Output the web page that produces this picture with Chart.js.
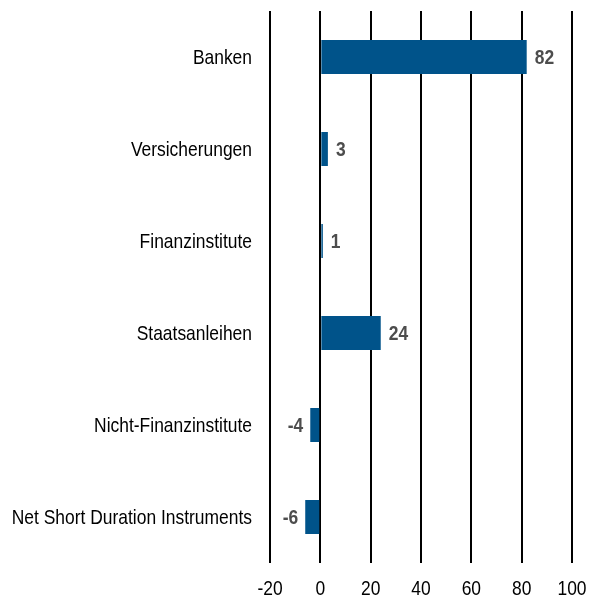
<!DOCTYPE html>
<html>
<head>
<meta charset="utf-8">
<script src="https://cdn.jsdelivr.net/npm/chart.js@4/dist/chart.umd.min.js"></script>
<style>
html,body{margin:0;padding:0;background:#fff;}
#wrap{width:589px;height:602px;position:relative;}
</style>
</head>
<body>
<div id="wrap"><canvas id="c"></canvas></div>
<script>
const categories = ["Banken","Versicherungen","Finanzinstitute","Staatsanleihen","Nicht-Finanzinstitute","Net Short Duration Instruments"];
const values = [82, 3, 1, 24, -4, -6];
const xTicks = [-20, 0, 20, 40, 60, 80, 100];

const FONT = "'Liberation Sans',Arial,sans-serif";
const NARROW = 0.83; // emulate Arial Narrow

function narrowText(ctx, text, x, y, align) {
  ctx.save();
  ctx.translate(x, y);
  ctx.scale(NARROW, 1);
  ctx.textAlign = align;
  ctx.fillText(text, 0, 0);
  ctx.restore();
}

const textPlugin = {
  id: 'narrowText',
  afterDatasetsDraw(chart) {
    const ctx = chart.ctx;
    const xs = chart.scales.x, ys = chart.scales.y;
    const area = chart.chartArea;
    ctx.save();
    ctx.textBaseline = 'middle';
    ctx.font = "21px " + FONT;
    ctx.fillStyle = '#000';
    categories.forEach((c, i) => {
      narrowText(ctx, c, area.left - 18, ys.getPixelForValue(i) + 1, 'right');
    });
    xTicks.forEach(t => {
      narrowText(ctx, String(t), xs.getPixelForValue(t), area.bottom + 26, 'center');
    });
    ctx.font = "bold 21px " + FONT;
    ctx.fillStyle = '#4d4d4d';
    const meta = chart.getDatasetMeta(0);
    meta.data.forEach((bar, i) => {
      const v = values[i];
      if (v >= 0) narrowText(ctx, String(v), bar.x + 8, bar.y + 1, 'left');
      else narrowText(ctx, String(v), bar.x - 7, bar.y + 1, 'right');
    });
    ctx.restore();
  }
};

new Chart(document.getElementById('c'), {
  type: 'bar',
  data: {
    labels: categories,
    datasets: [{
      data: values,
      backgroundColor: '#00538a',
      borderWidth: 0,
      categoryPercentage: 1,
      barPercentage: 0.37
    }]
  },
  options: {
    indexAxis: 'y',
    responsive: true,
    maintainAspectRatio: false,
    animation: false,
    layout: { padding: { top: 11, right: 17, left: 0, bottom: 0 } },
    plugins: { legend: { display: false }, tooltip: { enabled: false } },
    scales: {
      x: {
        min: xTicks[0], max: xTicks[xTicks.length - 1],
        afterBuildTicks(scale) { scale.ticks = xTicks.map(v => ({ value: v })); },
        afterFit(scale) { scale.height = 39; },
        ticks: { display: false },
        grid: { color: '#000', lineWidth: 2, drawTicks: false },
        border: { display: false }
      },
      y: {
        afterFit(scale) { scale.width = 270; },
        ticks: { display: false },
        grid: { display: false },
        border: { display: false }
      }
    }
  },
  plugins: [textPlugin]
});
</script>
</body>
</html>
